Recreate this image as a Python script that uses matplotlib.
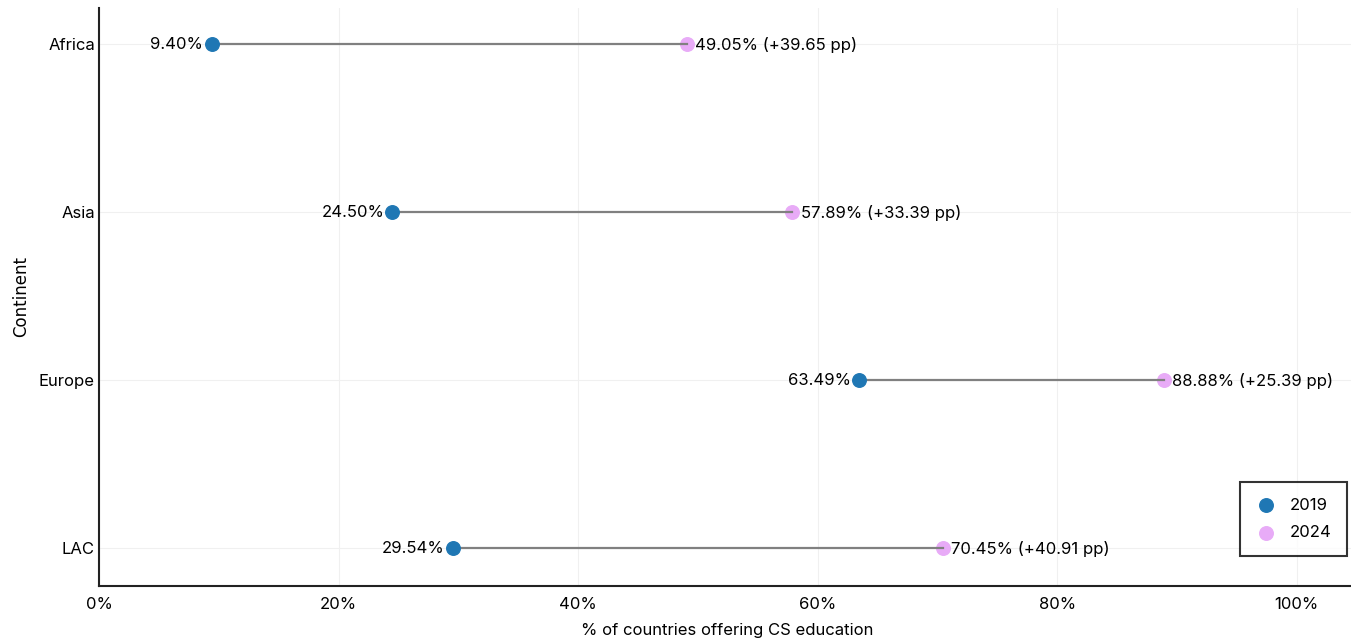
import matplotlib.pyplot as plt

CONTINENTS = ["Africa", "Asia", "Europe", "LAC"]
PCT_2019 = [9.40, 24.50, 63.49, 29.54]
PCT_2024 = [49.05, 57.89, 88.88, 70.45]

BLUE = "#1f77b4"
PINK = "#e8abf7"

plt.rcParams.update({
    "font.family": ["Inter", "DejaVu Sans"],
    "font.size": 12,
})

fig = plt.figure(figsize=(13.51, 6.40), dpi=100)
ax = fig.add_axes([0.0733, 0.0844, 0.93, 0.9031])

y = list(range(len(CONTINENTS)))

for yi, a, b in zip(y, PCT_2019, PCT_2024):
    ax.plot([a, b], [yi, yi], color="#808080", linewidth=1.6, zorder=2)

ax.scatter(PCT_2019, y, s=95, color=BLUE, zorder=3, label="2019")
ax.scatter(PCT_2024, y, s=95, color=PINK, zorder=1.5, label="2024")

for yi, a, b in zip(y, PCT_2019, PCT_2024):
    ax.annotate(f"{a:.2f}%", (a, yi), xytext=(-6, -0.5), textcoords="offset points",
                ha="right", va="center", fontsize=12)
    ax.annotate(f"{b:.2f}% (+{b - a:.2f} pp)", (b, yi), xytext=(6, -0.5),
                textcoords="offset points", ha="left", va="center", fontsize=12)

ax.set_xlim(0, 104.9)
ax.set_ylim(3.226, -0.214)
ax.set_yticks(y)
ax.set_yticklabels(CONTINENTS)
ax.set_xticks([0, 20, 40, 60, 80, 100])
ax.set_xticklabels(["0%", "20%", "40%", "60%", "80%", "100%"])
ax.tick_params(axis="y", length=0, pad=3, labelsize=12)
ax.tick_params(axis="x", length=0, pad=8, labelsize=12)

ax.grid(True, color="#f0f0f0", linewidth=0.8)
ax.set_axisbelow(True)

for side in ["top", "right"]:
    ax.spines[side].set_visible(False)
for side in ["left", "bottom"]:
    ax.spines[side].set_color("#222222")
    ax.spines[side].set_linewidth(1.5)

ax.set_xlabel("% of countries offering CS education", fontsize=12, labelpad=8)
ax.set_ylabel("Continent", fontsize=12, family=["DejaVu Sans"], labelpad=6)

leg = ax.legend(loc="lower right", bbox_to_anchor=(0.9933, 0.052), frameon=True,
                fancybox=False, edgecolor="black", fontsize=12, borderaxespad=0,
                borderpad=0.95, handlelength=1.2, handletextpad=0.8,
                labelspacing=0.75)
leg.get_frame().set_linewidth(1.5)

fig.savefig("out.png", dpi=100)
